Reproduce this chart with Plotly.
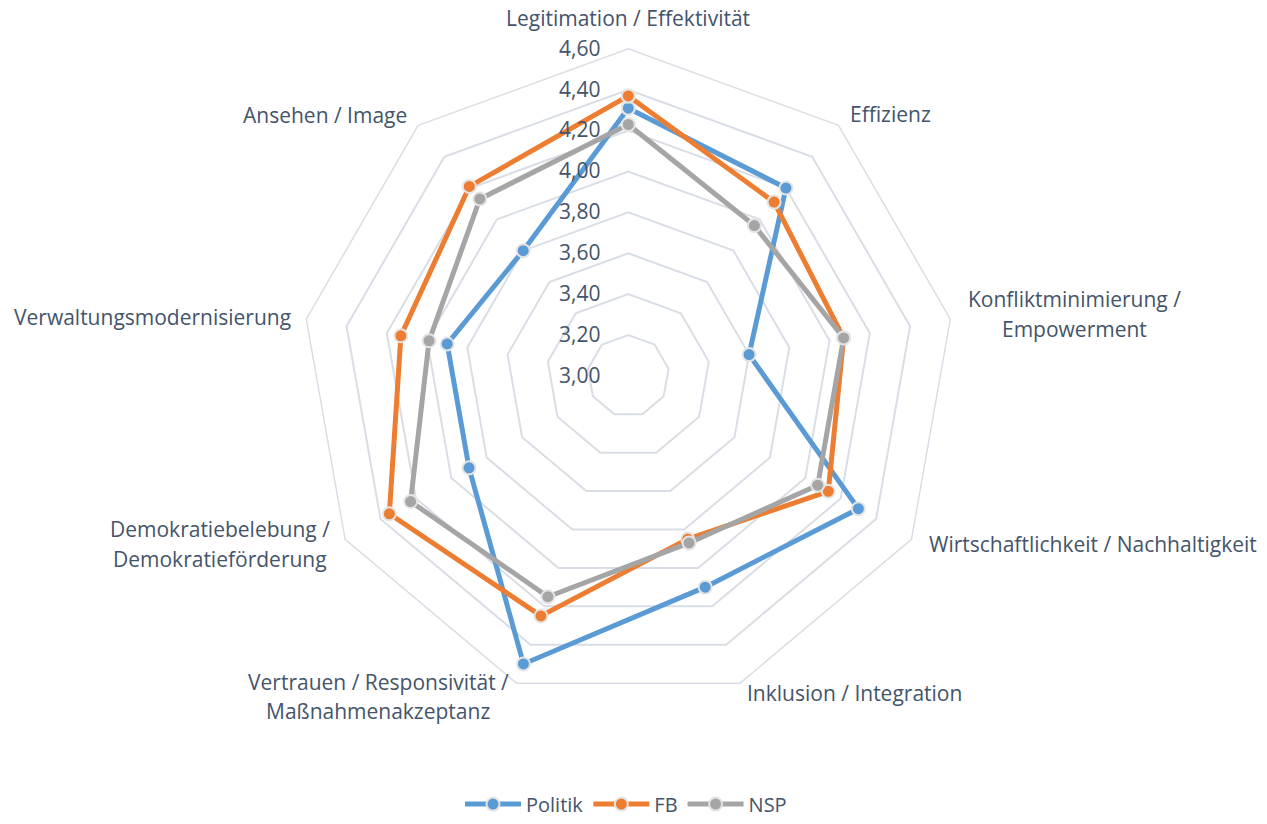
import plotly.graph_objects as go

categories = [
    "Legitimation / Effektivität",
    "Effizienz",
    "Konfliktminimierung / Empowerment",
    "Wirtschaftlichkeit / Nachhaltigkeit",
    "Inklusion / Integration",
    "Vertrauen / Responsivität / Maßnahmenakzeptanz",
    "Demokratiebelebung / Demokratieförderung",
    "Verwaltungsmodernisierung",
    "Ansehen / Image",
]
politik = [4.31, 4.20, 3.60, 4.30, 4.10, 4.50, 3.90, 3.90, 3.80]
fb = [4.37, 4.11, 4.07, 4.13, 3.85, 4.25, 4.35, 4.13, 4.21]
nsp = [4.23, 3.96, 4.07, 4.07, 3.87, 4.15, 4.23, 3.99, 4.13]
series_names = ["Politik", "FB", "NSP"]
series_colors = ["#5B9BD5", "#ED7D31", "#A5A5A5"]

# label layout: (lines, x_px, y_px of first line) in window pixels
label_lines = [
    (["Legitimation / Effektivität"], 628, 18),
    (["Effizienz"], 890, 115),
    (["Konfliktminimierung /", "Empowerment"], 1074, 303),
    (["Wirtschaftlichkeit / Nachhaltigkeit"], 1093, 551),
    (["Inklusion / Integration"], 854, 702),
    (["Vertrauen / Responsivität /", "Maßnahmenakzeptanz"], 378, 690),
    (["Demokratiebelebung /", "Demokratieförderung"], 220, 536),
    (["Verwaltungsmodernisierung"], 152, 321),
    (["Ansehen / Image"], 325, 116),
]

W, H = 1267, 824
FONT = "Open Sans"
TXT = "#44546A"
GRID = "#D9DEE6"


def px(x):
    return x / W


def py(y):
    return 1 - y / H


fig = go.Figure()
for name, vals, col in zip(series_names, [politik, fb, nsp], series_colors):
    fig.add_trace(go.Scatterpolar(
        r=vals + [vals[0]],
        theta=categories + [categories[0]],
        mode="lines+markers",
        name=name,
        line=dict(color=col, width=5),
        marker=dict(size=13, color=col, line=dict(color="#E4E4E4", width=2)),
    ))

cx, cy, R = 628.3, 380.5, 331.0
annotations = []
for lines, x, y in label_lines:
    for i, t in enumerate(lines):
        annotations.append(dict(
            text=t, x=px(x), y=py(y + 30 * i), xref="paper", yref="paper",
            showarrow=False, xanchor="center", yanchor="middle",
            font=dict(family=FONT, size=21, color=TXT),
        ))

fig.update_layout(
    width=W, height=H,
    autosize=False,
    margin=dict(l=0, r=0, t=0, b=0),
    paper_bgcolor="white",
    separators=",.",
    font=dict(family=FONT, size=20, color=TXT),
    polar=dict(
        domain=dict(x=[px(cx - R), px(cx + R)], y=[py(cy + R), py(cy - R)]),
        bgcolor="white",
        gridshape="linear",
        radialaxis=dict(
            range=[3.0, 4.6], tick0=3.0, dtick=0.2, tickformat=".2f",
            angle=90, tickangle=90, side="counterclockwise",
            showline=False, ticks="outside", ticklen=20, tickcolor="rgba(0,0,0,0)",
            gridcolor=GRID, gridwidth=1.5,
            tickfont=dict(family=FONT, size=21, color=TXT),
        ),
        angularaxis=dict(
            rotation=90, direction="clockwise",
            showgrid=False, showticklabels=False, ticks="",
            showline=True, linecolor=GRID, linewidth=1.5,
        ),
    ),
    legend=dict(
        orientation="h", x=px(626), xanchor="center", y=py(814), yanchor="middle",
        font=dict(family=FONT, size=20, color=TXT),
        itemwidth=56,
    ),
    annotations=annotations,
)

fig.write_html(
    "out.html",
    config={"displayModeBar": False, "responsive": False},
    post_script=(
        "document.documentElement.style.margin='0';"
        "document.body.style.margin='0';document.body.style.padding='0';"
        "document.body.style.overflow='hidden';"
    ),
)
